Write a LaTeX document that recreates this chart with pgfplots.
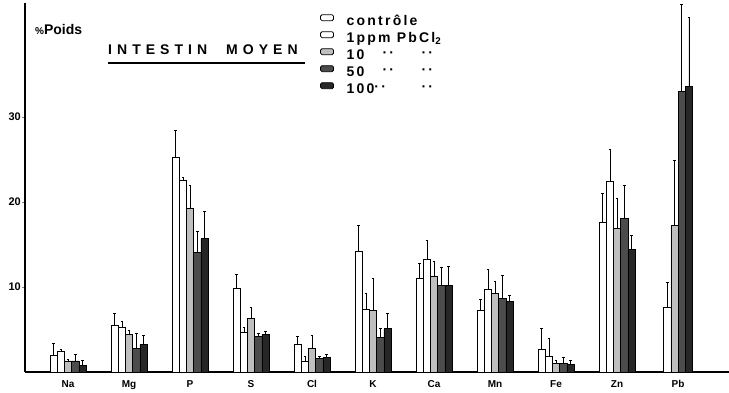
\documentclass[border=0pt]{standalone}
\usepackage{fontspec}
\setmainfont{Liberation Sans}
\usepackage{pgfplots}
\pgfplotsset{compat=1.18}
\usepackage{pgfplotstable}

% x = category index (Na=0 ... Pb=10), y = % poids, e = error (upper)
\pgfplotstableread{
x      y    e
0      2.0  1.4
1      5.5  1.4
2      25.2 3.2
3      9.9  1.6
4      3.2  1.0
5      14.2 3.0
6      11.0 1.8
7      7.2  1.3
8      2.7  2.4
9      17.6 3.4
10.059 7.6  2.9
}\ctrl
\pgfplotstableread{
x y    e
0 2.4  0.3
1 5.2  0.8
2 22.5 0.4
3 4.7  0.6
4 1.3  0.5
5 7.4  1.8
6 13.2 2.3
7 9.7  2.4
8 1.8  2.2
9 22.4 3.8
}\ppmone
\pgfplotstableread{
x     y    e
0     1.3  0.2
1     4.4  0.5
2     19.3 2.6
3     6.3  1.3
4     2.8  1.5
5     7.2  3.8
6     11.3 1.7
7     9.2  1.5
8     1.0  0.4
9     16.9 3.5
9.941 17.2 7.7
}\ppmten
\pgfplotstableread{
x     y    e
0     1.3  0.8
1     2.8  1.7
2     14.1 2.5
3     4.2  0.3
4     1.6  0.3
5     4.1  1.0
6     10.2 2.1
7     8.7  2.7
8     1.0  0.75
9     18.1 3.9
9.941 33.0 10.2
}\ppmfifty
\pgfplotstableread{
x     y    e
0     0.8  0.6
1     3.2  1.1
2     15.7 3.2
3     4.4  0.4
4     1.7  0.4
5     5.1  1.8
6     10.2 2.2
7     8.3  0.7
8     0.9  0.5
9     14.4 1.7
9.941 33.6 8.1
}\ppmhundred

\newcommand{\dit}{\raisebox{2pt}{\textperiodcentered\textperiodcentered}}

\begin{document}
\begin{tikzpicture}
\path[use as bounding box] (-25pt,-21pt) rectangle (704pt,372pt);
\begin{axis}[
  scale only axis, width=704pt, height=369pt,
  xmin=-0.705, xmax=10.836, ymin=0, ymax=43.4,
  axis x line*=bottom, axis y line*=left,
  axis line style={-, line width=1.1pt},
  ybar, bar width=0.118,
  xtick={0,1,2,3,4,5,6,7,8,9,10},
  xticklabels={Na,Mg,P,S,Cl,K,Ca,Mn,Fe,Zn,Pb},
  x tick style={draw=none},
  x tick label style={font=\bfseries\fontsize{10}{11}\selectfont, yshift=-2pt},
  ytick={10,20,30},
  tick align=outside, major tick length=3pt,
  y tick style={line width=0.8pt},
  y tick label style={font=\bfseries\fontsize{11}{12}\selectfont, inner sep=1pt},
  /pgf/number format/assume math mode=true,
  every axis plot/.append style={draw=black, line width=0.6pt},
  error bars/y dir=plus, error bars/y explicit,
  error bars/error bar style={line width=0.6pt},
  error bars/error mark options={line width=0.6pt, mark size=1.3pt, rotate=90},
  legend cell align=left,
  legend style={at={(0.419,0.973)}, anchor=north west, draw=none, fill=none,
    font=\bfseries\fontsize{14}{16}\selectfont\addfontfeatures{LetterSpace=16},
    inner sep=0pt, row sep=0pt,
    nodes={inner sep=1pt, text height=11pt, text depth=4pt}},
  sw/.style={legend image code/.code={
    \draw[rounded corners=1.5pt, line width=0.8pt] (0pt,1pt) rectangle (13pt,7pt);
    \path[draw=none, fill=none] (0pt,0pt) -- (25pt,0pt);}},
]
\addplot[fill=white, bar shift=-0.236, sw] table[x=x, y=y, y error=e] {\ctrl};
\addplot[fill=white, bar shift=-0.118, sw] table[x=x, y=y, y error=e] {\ppmone};
\addplot[fill=black!25, bar shift=0, sw] table[x=x, y=y, y error=e] {\ppmten};
\addplot[fill=black!70, bar shift=0.118, sw] table[x=x, y=y, y error=e] {\ppmfifty};
\addplot[fill=black!85, bar shift=0.236, sw] table[x=x, y=y, y error=e] {\ppmhundred};
\legend{contr\^ole,
  1ppm PbCl\textsubscript{2},
  \makebox[36pt][l]{10}\makebox[39pt][l]{\dit}\dit,
  \makebox[36pt][l]{50}\makebox[39pt][l]{\dit}\dit,
  \makebox[36pt][l]{100\dit}\makebox[39pt][l]{}\dit}
\end{axis}
\node[anchor=west, font=\bfseries\fontsize{14}{16}\selectfont, inner sep=0pt] at (10pt,342pt) {{\fontsize{10}{12}\selectfont\%}Poids};
\node[anchor=west, font=\bfseries\fontsize{14}{16}\selectfont\addfontfeatures{LetterSpace=36}, inner sep=0pt] at (83pt,322pt) {INTESTIN\hspace{10pt} MOYEN};
\draw[line width=1.5pt] (83pt,309pt) -- (280pt,309pt);
\end{tikzpicture}
\end{document}
